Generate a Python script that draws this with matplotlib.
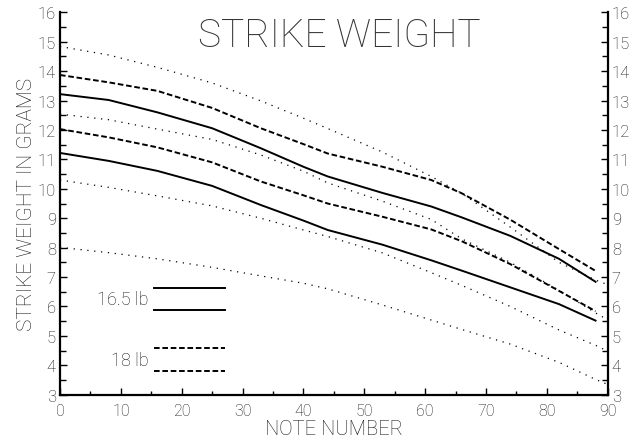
import matplotlib
matplotlib.use('Agg')
import matplotlib.pyplot as plt
from matplotlib.ticker import MultipleLocator

plt.rcParams['font.family'] = ['Roboto', 'DejaVu Sans']

notes = [0, 8, 16, 25, 33, 40, 44, 53, 61, 66, 74, 82, 88]
notes_dotted = [0, 8, 16, 25, 33, 40, 44, 53, 61, 66, 74, 82, 88, 90]

# 16.5 lb hammers (solid)
solid_hi = [13.22, 13.02, 12.6, 12.06, 11.38, 10.75, 10.42, 9.86, 9.40, 9.03, 8.4, 7.62, 6.84]
solid_lo = [11.22, 10.95, 10.61, 10.1, 9.45, 8.92, 8.6, 8.1, 7.57, 7.22, 6.65, 6.08, 5.52]

# 18 lb hammers (dashed)
dash_hi = [13.87, 13.62, 13.33, 12.75, 12.06, 11.52, 11.2, 10.75, 10.3, 9.85, 8.95, 7.95, 7.21]
dash_lo = [12.03, 11.75, 11.41, 10.9, 10.25, 9.78, 9.5, 9.05, 8.62, 8.22, 7.44, 6.53, 5.84]

# reference curves (dotted)
dot_1 = [14.84, 14.55, 14.13, 13.6, 12.99, 12.4, 12.05, 11.25, 10.42, 9.85, 8.7, 7.5, 6.9, 6.74]
dot_2 = [12.54, 12.35, 12.03, 11.68, 11.15, 10.6, 10.2, 9.58, 8.96, 8.3, 7.5, 6.55, 5.78, 5.55]
dot_3 = [10.3, 10.05, 9.76, 9.42, 9.0, 8.6, 8.38, 7.82, 7.15, 6.72, 6.0, 5.2, 4.68, 4.48]
dot_4 = [8.01, 7.83, 7.62, 7.33, 7.04, 6.79, 6.6, 6.05, 5.54, 5.22, 4.72, 4.1, 3.52, 3.35]

legend_labels = ['16.5 lb', '18 lb']

txt = '#1a1a1a'
dashes = (0, (2.9, 1.4))
dots = (0, (1, 4.5))

fig = plt.figure(figsize=(6.3, 4.39), dpi=100)
ax = fig.add_axes([0.0952, 0.0986, 0.8694, 0.871])

for yy in [dot_1, dot_2, dot_3, dot_4]:
    ax.plot(notes_dotted, yy, color='black', lw=0.9, linestyle=dots)
for yy in [solid_hi, solid_lo]:
    ax.plot(notes, yy, color='black', lw=1.4, solid_joinstyle='round')
for yy in [dash_hi, dash_lo]:
    ax.plot(notes, yy, color='black', lw=1.4, linestyle=dashes)

# hand drawn legend, two sample lines per weight
for yy in [0.279, 0.221]:
    ax.plot([0.171, 0.301], [yy, yy], color='black', lw=1.4, transform=ax.transAxes)
for yy in [0.122, 0.062]:
    ax.plot([0.171, 0.301], [yy, yy], color='black', lw=1.4, linestyle=dashes,
            transform=ax.transAxes)
ax.text(0.162, 0.25, legend_labels[0], transform=ax.transAxes, ha='right', va='center',
        fontsize=13, color=txt, fontweight='light')
ax.text(0.162, 0.092, legend_labels[1], transform=ax.transAxes, ha='right', va='center',
        fontsize=13, color=txt, fontweight='light')

ax.text(0.51, 0.94, 'STRIKE WEIGHT', transform=ax.transAxes, ha='center', va='center',
        fontsize=28, color='#333333', fontweight='light')

ax.set_xlim([0, 90])
ax.set_ylim([3, 16])
ax.xaxis.set_major_locator(MultipleLocator(10))
ax.xaxis.set_minor_locator(MultipleLocator(5))
ax.yaxis.set_major_locator(MultipleLocator(1))
ax.yaxis.set_minor_locator(MultipleLocator(0.5))

ax.spines['top'].set_visible(False)
for s in ['left', 'bottom', 'right']:
    ax.spines[s].set_linewidth(1.6)
ax.tick_params(which='both', direction='in', left=True, right=True, labelright=True,
               top=False, width=1.0, colors='black', labelcolor=txt, labelsize=12)
ax.tick_params(which='major', length=5, pad=3)
ax.tick_params(which='minor', length=4)
ax.tick_params(axis='x', which='major', pad=6, labelsize=11.5)
ax.tick_params(axis='x', which='minor', length=3)
for lab in ax.get_xticklabels() + ax.get_yticklabels():
    lab.set_fontweight('light')

ax.set_xlabel('NOTE NUMBER', fontsize=14.5, color=txt, labelpad=0.5, fontweight='light')
ax.set_ylabel('STRIKE WEIGHT IN GRAMS', fontsize=15, color=txt, labelpad=1, fontweight='light')

plt.savefig('out.png', dpi=100)
